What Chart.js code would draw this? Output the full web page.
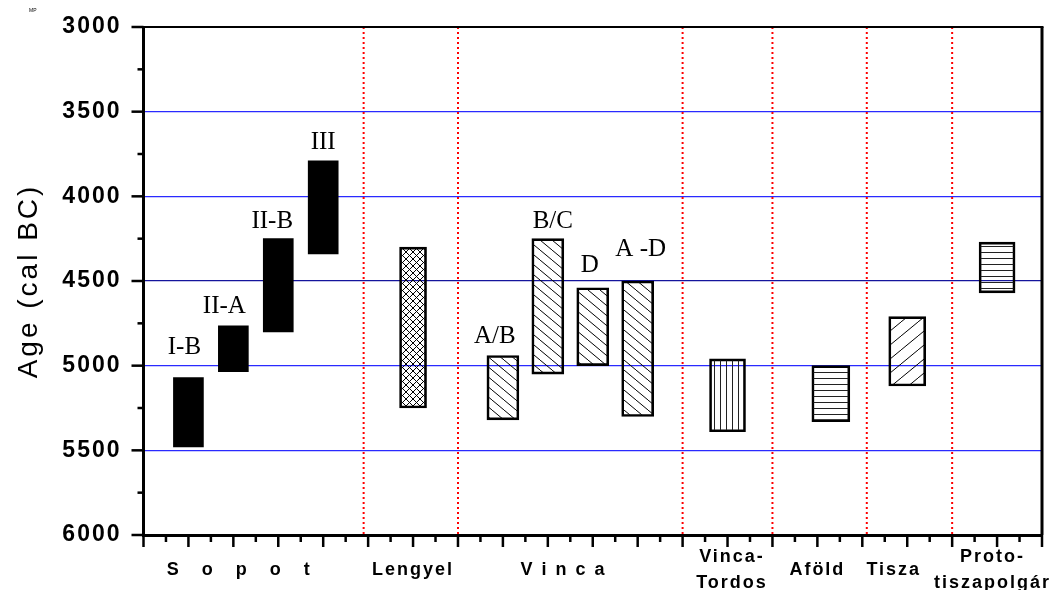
<!DOCTYPE html>
<html>
<head>
<meta charset="utf-8">
<script src="https://cdn.jsdelivr.net/npm/chart.js@4.4.1/dist/chart.umd.min.js"></script>
<style>
  body { margin: 0; background: #fff; }
  #box { width: 1061px; height: 590px; }
</style>
</head>
<body>
<div id="box"><canvas id="grafico" width="1061" height="590"></canvas></div>
<script>
// x axis groups
const groupNames = ['S   o   p   o   t', 'Lengyel', 'V i n c a', ['Vinca-', 'Tordos'], 'Aföld', 'Tisza', ['Proto-', 'tiszapolgár']];
const groupPos = [2.13, 6, 9.35, 13.1, 15, 16.7, 18.9];
const dividers = [4.9, 7, 12, 14, 16.1, 18];

// Sopot
const sopotX = [1, 2, 3, 4];
const sopotOld = [5480, 5035, 4800, 4340];
const sopotYoung = [5070, 4765, 4250, 3790];
const sopotPhases = ['I-B', 'II-A', 'II-B', 'III'];

// Lengyel
const lengyelX = [6];
const lengyelOld = [5250];
const lengyelYoung = [4300];

// Vinca
const vincaX = [8, 9, 10, 11];
const vincaOld = [5320, 5050, 5000, 5300];
const vincaYoung = [4940, 4250, 4540, 4500];
const vincaPhases = ['A/B', 'B/C', 'D', 'A -D'];

// Vinca-Tordos
const tordosX = [13];
const tordosOld = [5390];
const tordosYoung = [4960];

// Aföld
const afoldX = [15.3];
const afoldOld = [5330];
const afoldYoung = [5000];

// Tisza
const tiszaX = [17];
const tiszaOld = [5120];
const tiszaYoung = [4710];

// Proto-tiszapolgár
const protoX = [19];
const protoOld = [4570];
const protoYoung = [4270];

function hatch(kind, w, h) {
  const c = document.createElement('canvas');
  c.width = w; c.height = h;
  const g = c.getContext('2d');
  g.strokeStyle = '#000';
  g.lineWidth = 1;
  g.beginPath();
  if (kind === 'cross') {
    g.moveTo(-1, -1); g.lineTo(w + 1, h + 1);
    g.moveTo(w + 1, -1); g.lineTo(-1, h + 1);
  } else if (kind === 'down') {
    g.moveTo(0, 0); g.lineTo(w, h);
  } else if (kind === 'up') {
    g.moveTo(0, h); g.lineTo(w, 0);
  } else if (kind === 'vert') {
    g.strokeStyle = '#222';
    g.moveTo(0.5, 0); g.lineTo(0.5, h);
  } else if (kind === 'horiz') {
    g.strokeStyle = '#222';
    g.moveTo(0, 0.5); g.lineTo(w, 0.5);
  }
  g.stroke();
  return g.createPattern(c, 'repeat');
}

function bars(label, xs, older, younger, fill, width, border) {
  return {
    type: 'bar',
    label: label,
    data: xs.map((x, i) => ({ x: x, y: [older[i], younger[i]] })),
    backgroundColor: fill,
    borderColor: '#000',
    borderWidth: border,
    borderSkipped: false,
    barThickness: width,
    grouped: false
  };
}

const sopotSet = bars('Sopot', sopotX, sopotOld, sopotYoung, '#000', 30, 0);
sopotSet.phases = sopotPhases;
sopotSet.nudge = [-4, -9, -6, 0];
sopotSet.gap = [24, 13, 11, 12];

const vincaSet = bars('Vinca', vincaX, vincaOld, vincaYoung, hatch('down', 12, 10), 32, 2);
vincaSet.phases = vincaPhases;
vincaSet.nudge = [-8, 5, -3, 3];
vincaSet.gap = [13, 11, 16, 25];

const datasets = [
  sopotSet,
  bars('Lengyel', lengyelX, lengyelOld, lengyelYoung, hatch('cross', 7, 7), 27, 2),
  vincaSet,
  bars('Vinca-Tordos', tordosX, tordosOld, tordosYoung, hatch('vert', 6, 6), 36, 2),
  bars('Aföld', afoldX, afoldOld, afoldYoung, hatch('horiz', 6, 6), 38, 2),
  bars('Tisza', tiszaX, tiszaOld, tiszaYoung, hatch('up', 17, 14), 37, 2),
  bars('Proto-tiszapolgár', protoX, protoOld, protoYoung, hatch('horiz', 6, 6), 36, 2)
];

dividers.forEach(v => {
  datasets.push({
    type: 'line',
    data: [{ x: v, y: 3000 }, { x: v, y: 6000 }],
    borderColor: '#ff0000',
    borderWidth: 2,
    borderDash: [2, 3],
    pointRadius: 0,
    fill: false
  });
});

function seg(ctx, x1, y1, x2, y2) {
  ctx.beginPath();
  ctx.moveTo(x1, y1);
  ctx.lineTo(x2, y2);
  ctx.stroke();
}

const extras = {
  id: 'extras',
  beforeDraw(chart) {
    // only the axis title is drawn before the datasets
    chart.ctx.letterSpacing = '3px';
  },
  afterDatasetsDraw(chart) {
    const ctx = chart.ctx;
    ctx.letterSpacing = '0px';
    ctx.save();
    ctx.font = '25px "Liberation Serif", "Times New Roman", serif';
    ctx.fillStyle = '#000';
    ctx.textAlign = 'center';
    ctx.textBaseline = 'alphabetic';
    chart.data.datasets.forEach((ds, i) => {
      if (!ds.phases) return;
      chart.getDatasetMeta(i).data.forEach((el, j) => {
        const top = Math.min(el.y, el.base);
        ctx.fillText(ds.phases[j], el.x + ds.nudge[j], top - ds.gap[j]);
      });
    });
    ctx.restore();
    // axis tick labels are spaced out a little
    ctx.letterSpacing = '2px';
  },
  afterDraw(chart) {
    const ctx = chart.ctx;
    const a = chart.chartArea;
    const xs = chart.scales.x;
    const ys = chart.scales.y;
    ctx.letterSpacing = '0px';
    ctx.save();
    ctx.strokeStyle = '#000';
    ctx.lineWidth = 2;
    seg(ctx, a.left, a.top, a.right + 1.5, a.top);
    ctx.lineWidth = 3;
    seg(ctx, a.right, a.top, a.right, a.bottom);
    ctx.lineWidth = 2.5;
    for (let v = 3000; v <= 6000; v += 250) {
      const p = ys.getPixelForValue(v);
      seg(ctx, a.left - (v % 500 ? 6 : 12), p, a.left, p);
    }
    for (let v = 0; v <= 20; v += 0.5) {
      const p = xs.getPixelForValue(v);
      seg(ctx, p, a.bottom, p, a.bottom + (v % 1 ? 7 : 12));
    }
    ctx.fillStyle = '#000';
    ctx.font = '5px sans-serif';
    ctx.fillText('MP', 29, 12);
    ctx.restore();
  }
};

new Chart(document.getElementById('grafico'), {
  type: 'bar',
  data: { datasets: datasets },
  options: {
    responsive: false,
    animation: false,
    devicePixelRatio: 1,
    layout: { padding: { top: 27, right: 19, left: 0, bottom: 0 } },
    plugins: { legend: { display: false }, tooltip: { enabled: false } },
    scales: {
      x: {
        type: 'linear',
        min: 0,
        max: 20,
        offset: false,
        afterFit: s => { s.height = 55; s.paddingLeft = 0; s.paddingRight = 0; },
        afterBuildTicks: s => { s.ticks = groupPos.map(v => ({ value: v })); },
        grid: { display: false, drawTicks: false, offset: false },
        border: { display: true, color: '#000', width: 3 },
        ticks: {
          z: 1,
          autoSkip: false,
          maxRotation: 0,
          minRotation: 0,
          padding: 22,
          crossAlign: 'center',
          color: '#000',
          font: { family: '"Liberation Sans", Arial, sans-serif', size: 18, weight: 'bold', lineHeight: 1.44 },
          callback: (v, i) => groupNames[i]
        }
      },
      y: {
        reverse: true,
        min: 3000,
        max: 6000,
        afterFit: s => { s.width = 143.5; s.paddingTop = 0; s.paddingBottom = 0; },
        grid: {
          drawTicks: false,
          lineWidth: 1.3,
          color: c => {
            const v = c.tick.value;
            if (v === 3000 || v === 6000) return 'rgba(0,0,0,0)';
            if (v === 4500) return '#14149c';
            return '#2a2aff';
          }
        },
        border: { display: true, color: '#000', width: 3 },
        ticks: {
          z: 1,
          stepSize: 500,
          padding: 22,
          color: '#000',
          font: { family: '"Liberation Sans", Arial, sans-serif', size: 23, weight: 'bold' },
          callback: v => String(v)
        },
        title: {
          display: true,
          text: 'Age (cal BC)',
          color: '#000',
          padding: { top: 12, bottom: 0 },
          font: { family: '"Liberation Sans", Arial, sans-serif', size: 28 }
        }
      }
    }
  },
  plugins: [extras]
});
</script>
</body>
</html>
